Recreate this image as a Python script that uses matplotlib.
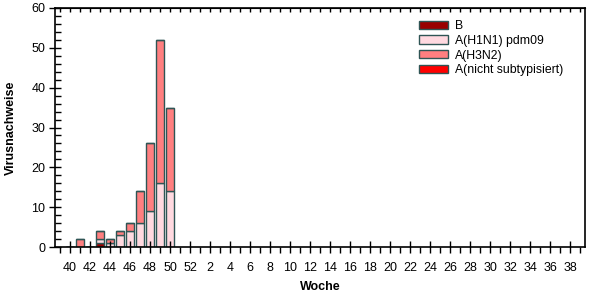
import numpy as np
import matplotlib.pyplot as plt
from matplotlib.ticker import FixedLocator

plt.rcParams['font.family'] = ['Liberation Sans', 'DejaVu Sans']

# weeks 40..52 then 1..39 of the next year
weeks = list(range(40, 53)) + list(range(1, 40))
tick_labels = [str(w) for w in weeks]

# counts per week (only weeks 40-50 have data)
b_vals = [0, 0, 0, 1, 0, 0, 0, 0, 0, 0, 0]
h1n1_vals = [0, 0, 0, 1, 1, 3, 4, 6, 9, 16, 14]
h3n2_vals = [0, 2, 0, 2, 1, 1, 2, 8, 17, 36, 21]
nicht_vals = [0, 0, 0, 0, 0, 0, 0, 0, 0, 0, 0]

series = [
    ("B", b_vals, "#990000"),
    ("A(H1N1) pdm09", h1n1_vals, "#FFD9E0"),
    ("A(H3N2)", h3n2_vals, "#FF7F80"),
    ("A(nicht subtypisiert)", nicht_vals, "#FF0000"),
]

fig = plt.figure(figsize=(6.02, 3.0), dpi=100)
ax = fig.add_axes([55 / 602, 1 - 247 / 300, 530 / 602, 239 / 300])

x = np.arange(len(b_vals))
bottom = np.zeros(len(b_vals))
handles = []
for name, vals, col in series:
    vals = np.array(vals, dtype=float)
    bars = ax.bar(x, vals, width=0.75, bottom=bottom, color=col,
                  edgecolor="#2F5555", linewidth=1.0, label=name)
    handles.append(bars)
    bottom += vals

ax.set_xlim(-1.5, len(weeks) - 0.5)
ax.set_ylim(0, 60)

ax.set_xticks(np.arange(0, len(weeks), 2))
ax.set_xticklabels(tick_labels[::2])
ax.xaxis.set_minor_locator(FixedLocator(np.arange(-1, len(weeks))))
ax.set_yticks(np.arange(0, 61, 10))
ax.yaxis.set_minor_locator(FixedLocator(np.arange(0, 61, 2)))

ax.tick_params(axis="x", which="major", direction="inout", length=8, width=1,
               labelsize=9, pad=7)
ax.tick_params(axis="x", which="minor", direction="out", length=4, width=1)
ax.tick_params(axis="y", which="major", direction="inout", length=8, width=1,
               labelsize=9, pad=3)
ax.tick_params(axis="y", which="minor", direction="in", length=4, width=1)

# small ticks along the top edge
top = ax.secondary_xaxis("top")
top.set_xticks(np.arange(-1, len(weeks)))
top.set_xticklabels([])
top.tick_params(direction="in", length=3, width=1)

for s in ax.spines.values():
    s.set_linewidth(1.2)

ax.set_xlabel("Woche", fontsize=9, fontweight="bold", labelpad=5)
ax.set_ylabel("Virusnachweise", fontsize=9, fontweight="bold", labelpad=10)

leg = ax.legend(handles=handles, loc="upper left", bbox_to_anchor=(0.67, 0.985),
                frameon=False, fontsize=8.8, handlelength=2.4, handleheight=0.65,
                labelspacing=0.22, handletextpad=0.6, borderpad=0.2)

fig.savefig("out.png", dpi=100)
